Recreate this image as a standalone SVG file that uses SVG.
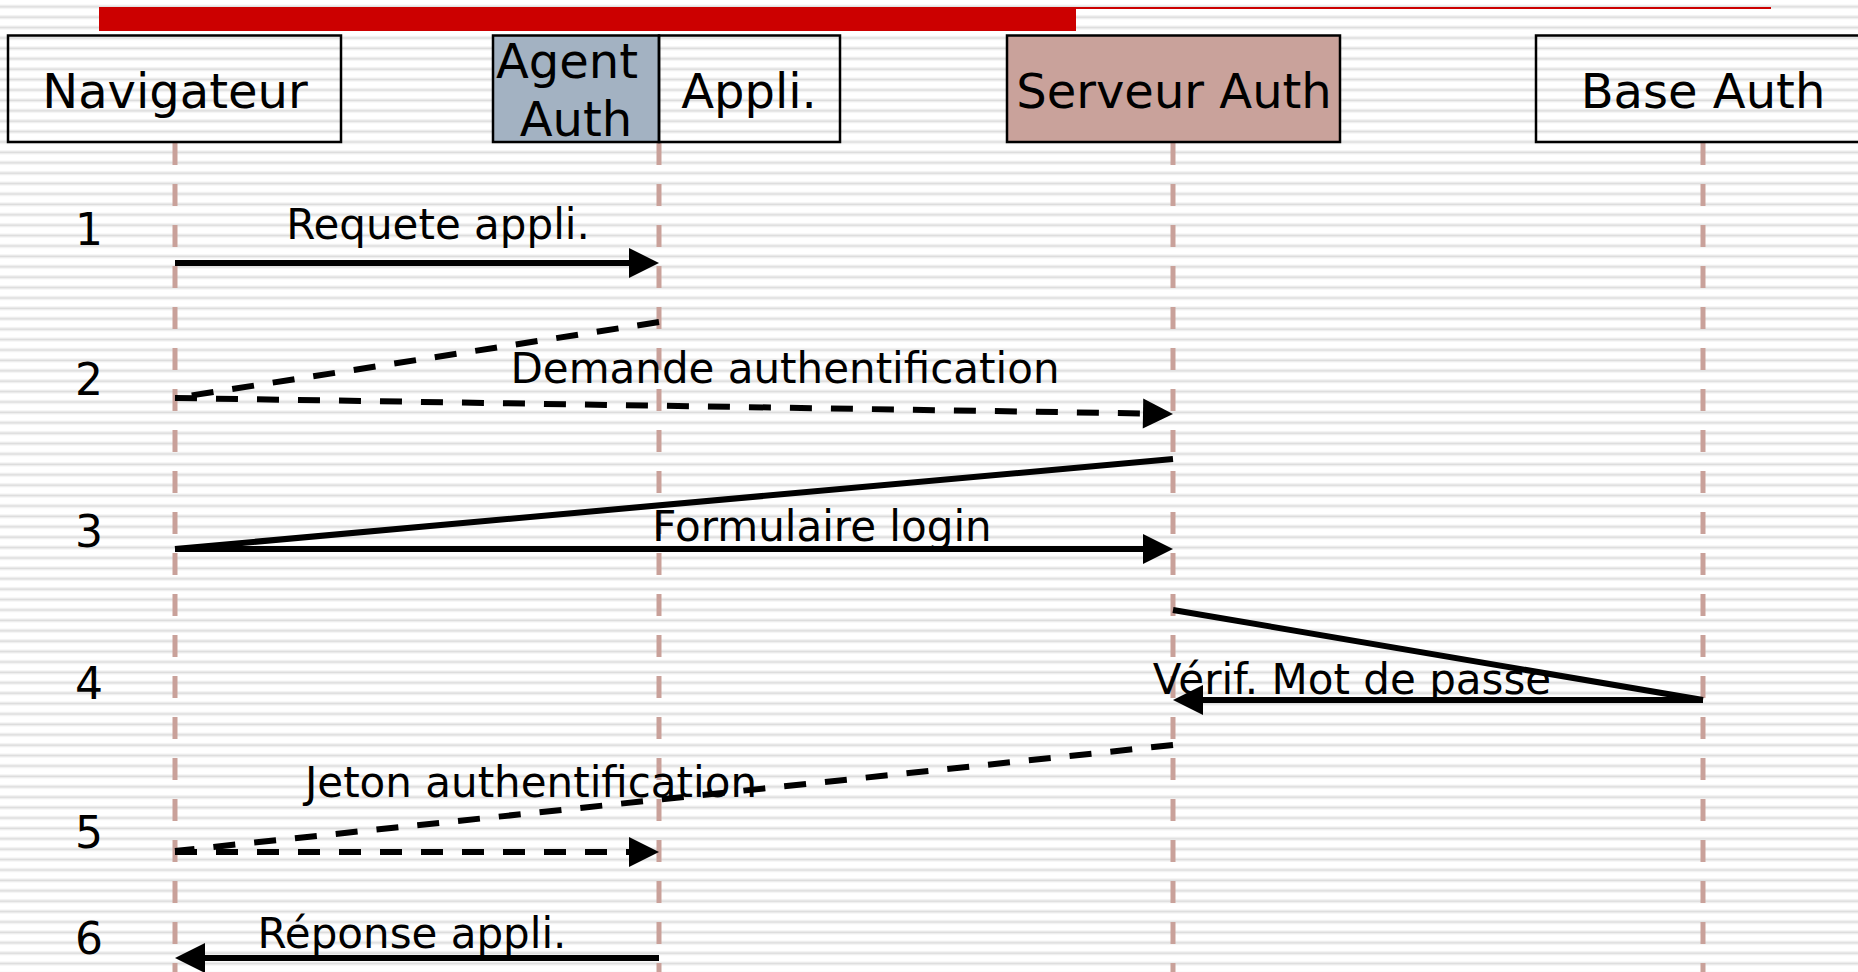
<svg xmlns="http://www.w3.org/2000/svg" width="1858" height="972" viewBox="0 0 1858 972">
<defs>
<pattern id="stripes" patternUnits="userSpaceOnUse" x="0" y="4.5" width="20" height="10.4">
<rect x="0" y="0" width="20" height="10.4" fill="#ffffff"/>
<rect x="0" y="0.5" width="20" height="1" fill="#ebebeb"/>
<rect x="0" y="1.5" width="20" height="1.6" fill="#dcdcdc"/>
<rect x="0" y="3.1" width="20" height="1" fill="#ebebeb"/>
</pattern>
<marker id="arr" markerUnits="userSpaceOnUse" viewBox="0 0 30 30" markerWidth="30" markerHeight="30" refX="3" refY="15" orient="auto" overflow="visible">
<path d="M0,0 L30,15 L0,30 Z" fill="#000"/>
</marker>
<style>
.box{stroke:#000;stroke-width:2.5}
.node{font-family:"DejaVu Sans","Verdana",sans-serif;font-size:48px;fill:#000;text-anchor:middle}
.lbl{font-family:"DejaVu Sans","Verdana",sans-serif;font-size:42px;fill:#000;text-anchor:middle}
.num{font-family:"DejaVu Sans","Verdana",sans-serif;font-size:44px;fill:#000;text-anchor:middle}
.life{stroke:#c9a19a;stroke-width:5;stroke-dasharray:22 19;fill:none}
.msg{stroke:#000;stroke-width:6;fill:none}
.dash{stroke-dasharray:22 19}
</style>
</defs>
<rect x="0" y="0" width="1858" height="972" fill="url(#stripes)"/>
<g id="title-bar">
<rect x="99" y="7" width="977" height="24" fill="#cc0000"/>
<rect x="1076" y="7" width="695" height="2" fill="#cc0000"/>
</g>
<g id="lifelines">
<line class="life" x1="175" y1="143" x2="175" y2="972"/>
<line class="life" x1="659" y1="143" x2="659" y2="972"/>
<line class="life" x1="1173" y1="143" x2="1173" y2="972"/>
<line class="life" x1="1703" y1="143" x2="1703" y2="972"/>
</g>
<g id="node-navigateur">
<rect class="box" x="8" y="35.5" width="333" height="106.5" fill="none"/>
<text class="node" x="175" y="108">Navigateur</text>
</g>
<g id="node-agent-auth">
<rect class="box" x="493" y="35.5" width="166" height="106.5" fill="#a3b2c2"/>
<text class="node" x="567" y="78">Agent</text>
<text class="node" x="576" y="136">Auth</text>
</g>
<g id="node-appli">
<rect class="box" x="659" y="35.5" width="181" height="106.5" fill="none"/>
<text class="node" x="749" y="108">Appli.</text>
</g>
<g id="node-serveur-auth">
<rect class="box" x="1007" y="35.5" width="333" height="106.5" fill="#c9a29b"/>
<text class="node" x="1174" y="108">Serveur Auth</text>
</g>
<g id="node-base-auth">
<rect class="box" x="1536" y="35.5" width="340" height="106.5" fill="none"/>
<text class="node" x="1703" y="108">Base Auth</text>
</g>
<g id="steps">
<text class="num" x="89" y="245">1</text>
<text class="num" x="89" y="395">2</text>
<text class="num" x="89" y="547">3</text>
<text class="num" x="89" y="699">4</text>
<text class="num" x="89" y="848">5</text>
<text class="num" x="89" y="954">6</text>
</g>
<g id="connectors">
<line class="msg" x1="175" y1="263" x2="632" y2="263" marker-end="url(#arr)"/>
<text class="lbl" x="438" y="239">Requete appli.</text>
<line class="msg dash" x1="659" y1="322" x2="175" y2="398"/>
<line class="msg dash" x1="175" y1="398" x2="1146" y2="413.5" marker-end="url(#arr)"/>
<text class="lbl" x="785" y="383">Demande authentification</text>
<line class="msg" x1="1173" y1="459" x2="175" y2="549"/>
<line class="msg" x1="175" y1="549" x2="1146" y2="549" marker-end="url(#arr)"/>
<text class="lbl" x="822" y="541">Formulaire login</text>
<line class="msg" x1="1173" y1="610" x2="1703" y2="700"/>
<line class="msg" x1="1703" y1="700" x2="1200" y2="700" marker-end="url(#arr)"/>
<text class="lbl" x="1352" y="694">Vérif. Mot de passe</text>
<line class="msg dash" x1="1173" y1="745" x2="175" y2="851"/>
<line class="msg dash" x1="175" y1="852" x2="632" y2="852" marker-end="url(#arr)"/>
<text class="lbl" x="531" y="797">Jeton authentification</text>
<line class="msg" x1="659" y1="958" x2="202" y2="958" marker-end="url(#arr)"/>
<text class="lbl" x="412" y="948">Réponse appli.</text>
</g>
</svg>
